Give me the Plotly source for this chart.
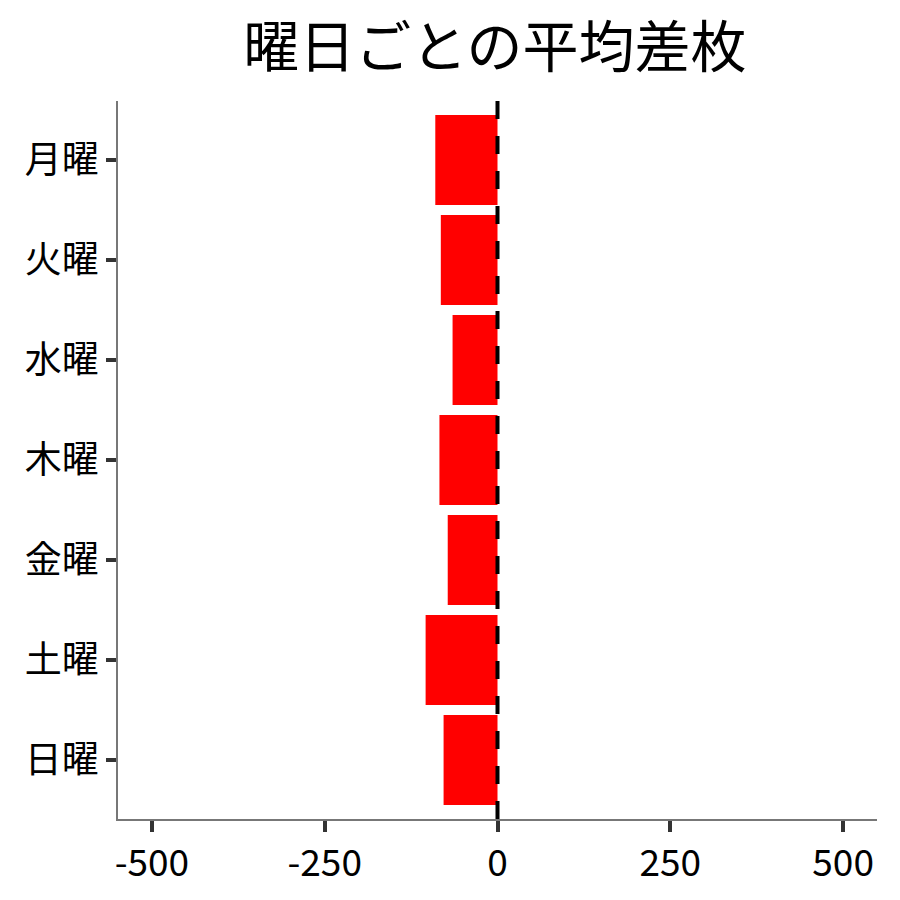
import plotly.graph_objects as go

# 曜日ごとの平均差枚
days = ["月曜", "火曜", "水曜", "木曜", "金曜", "土曜", "日曜"]
avg_diff = [-90, -82, -65, -84, -72, -104, -78]
x_ticks = [-500, -250, 0, 250, 500]
x_tick_labels = ["-500", "-250", "0", "250", "500"]

font_name = "Noto Sans CJK JP"

fig = go.Figure()
fig.add_trace(go.Bar(
    x=avg_diff, y=days, orientation="h",
    marker=dict(color="#FF0000", line=dict(width=0)),
    width=0.9,
))

# zero line
fig.add_vline(x=0, line=dict(color="black", width=4, dash="18px,17px"))

fig.update_layout(
    width=900, height=900,
    paper_bgcolor="white", plot_bgcolor="white",
    margin=dict(l=110, r=31, t=93, b=89),
    showlegend=False,
    title=dict(text="曜日ごとの平均差枚", x=0.541, xanchor="center",
               y=0.956, yanchor="middle",
               font=dict(family=font_name, size=56, color="black")),
    font=dict(family=font_name, color="black"),
)
fig.update_xaxes(
    range=[-549, 549], tickvals=x_ticks, ticktext=x_tick_labels,
    showgrid=False, zeroline=False,
    showline=True, linecolor="#777777", linewidth=1.5,
    ticks="outside", ticklen=11, tickwidth=4, tickcolor="#333333",
    tickfont=dict(family=font_name, size=37, color="black"),
)
fig.update_yaxes(
    range=[6.59, -0.59], categoryorder="array", categoryarray=days,
    showgrid=False, zeroline=False,
    showline=True, linecolor="#777777", linewidth=1.5,
    ticks="outside", ticklen=10, tickwidth=4, tickcolor="#333333",
    tickfont=dict(family=font_name, size=37, color="black"),
)

fig.write_html("out.html")
